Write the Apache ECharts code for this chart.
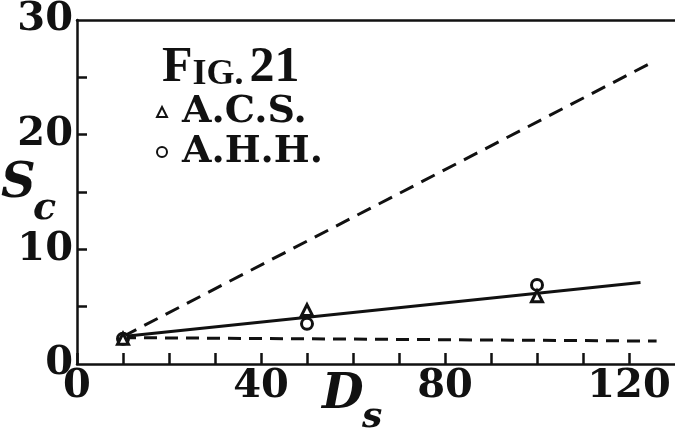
<!DOCTYPE html>
<html>
<head>
<meta charset="utf-8">
<script src="https://cdn.jsdelivr.net/npm/echarts@6/dist/echarts.min.js"></script>
<style>
html,body{margin:0;padding:0;background:#fff;}
#c{width:675px;height:430px;}
</style>
</head>
<body>
<div id="c"></div>
<script>
// Data
const acsX = [10, 50, 100];
const acsY = [2.2, 4.7, 5.9];
const ahhX = [10, 50, 100];
const ahhY = [2.2, 3.5, 6.9];
const solidLineX = [10, 122.5];
const solidLineY = [2.4, 7.1];
const upperDashX = [10, 125];
const upperDashY = [2.4, 26.3];
const lowerDashX = [10, 126];
const lowerDashY = [2.3, 2.0];
const xLabelValues = [0, 40, 80, 120];
const xTickValues = [0, 10, 20, 30, 40, 50, 60, 70, 80, 90, 100, 110, 120];
const yLabelValues = [0, 10, 20, 30];
const yTickValues = [5, 10, 15, 20, 25];

const pair = (xs, ys) => xs.map((x, i) => [x, ys[i]]);
const INK = '#111';
const FONT = 'DejaVu Serif';
const TFONT = 'Liberation Serif';

const chart = echarts.init(document.getElementById('c'));
chart.setOption({
  animation: false,
  backgroundColor: '#fff',
  grid: { left: 77, right: 0, top: 18, bottom: 66 },
  title: {
    left: 157, top: 36,
    text: '{a|F}{b|IG.}{n|21}',
    textStyle: {
      rich: {
        a: { fontFamily: TFONT, fontWeight: 'bold', fontSize: 50, color: INK, lineHeight: 52, verticalAlign: 'bottom' },
        b: { fontFamily: TFONT, fontWeight: 'bold', fontSize: 36, color: INK, lineHeight: 40, verticalAlign: 'bottom' },
        n: { fontFamily: TFONT, fontWeight: 'bold', fontSize: 50, color: INK, lineHeight: 52, verticalAlign: 'bottom', width: 56, align: 'right' }
      }
    }
  },
  legend: {
    orient: 'vertical', left: 151, top: 87,
    data: ['A.C.S.', 'A.H.H.'],
    itemWidth: 10, itemHeight: 10, itemGap: 0,
    textStyle: { fontFamily: FONT, fontWeight: 'bold', fontSize: 38, color: INK, lineHeight: 40, padding: [0, 0, 0, 10] }
  },
  xAxis: [{
    type: 'value', min: 0, max: 130, interval: 10,
    axisLine: { show: true, onZero: false, lineStyle: { color: INK, width: 2.5 } },
    axisTick: { show: true, inside: true, length: 11, customValues: xTickValues, lineStyle: { color: INK, width: 2.5 } },
    axisLabel: { customValues: xLabelValues, margin: 3, fontFamily: FONT, fontWeight: 'bold', fontSize: 40, color: INK },
    splitLine: { show: false }
  }, {
    type: 'value', position: 'top', min: 0, max: 130,
    axisLine: { show: true, onZero: false, lineStyle: { color: INK, width: 2.5 } },
    axisTick: { show: false }, axisLabel: { show: false }, splitLine: { show: false }
  }],
  yAxis: {
    type: 'value', min: 0, max: 30, interval: 5,
    axisLine: { show: true, onZero: false, lineStyle: { color: INK, width: 2.5 } },
    axisTick: { show: true, inside: true, length: 10, customValues: yTickValues, lineStyle: { color: INK, width: 2.5 } },
    axisLabel: { customValues: yLabelValues, margin: 4, fontFamily: FONT, fontWeight: 'bold', fontSize: 40, color: INK },
    splitLine: { show: false }
  },
  graphic: [
    { type: 'text', left: 1, top: 161, style: { text: 'S', font: 'italic bold 48px "DejaVu Serif"', fill: INK } },
    { type: 'text', left: 33, top: 190, style: { text: 'c', font: 'italic bold 38px "DejaVu Serif"', fill: INK } },
    { type: 'text', left: 322, top: 372, style: { text: 'D', font: 'italic bold 48px "DejaVu Serif"', fill: INK } },
    { type: 'text', left: 362, top: 400, style: { text: 's', font: 'italic bold 36px "DejaVu Serif"', fill: INK } }
  ],
  series: [
    { type: 'line', name: 'upper', data: pair(upperDashX, upperDashY), showSymbol: false, symbol: 'none',
      lineStyle: { color: INK, width: 3, type: [15, 9] }, z: 1 },
    { type: 'line', name: 'lower', data: pair(lowerDashX, lowerDashY), showSymbol: false, symbol: 'none',
      lineStyle: { color: INK, width: 3, type: [13, 8] }, z: 1 },
    { type: 'line', name: 'fit', data: pair(solidLineX, solidLineY), showSymbol: false, symbol: 'none',
      lineStyle: { color: INK, width: 3 }, z: 1 },
    { type: 'scatter', name: 'A.H.H.', data: pair(ahhX, ahhY), symbol: 'circle', symbolSize: 11,
      itemStyle: { color: '#fff', borderColor: INK, borderWidth: 3, opacity: 1 }, z: 3 },
    { type: 'scatter', name: 'A.C.S.', data: pair(acsX, acsY), symbol: 'triangle', symbolSize: 11,
      itemStyle: { color: '#fff', borderColor: INK, borderWidth: 3, opacity: 1 }, z: 4 }
  ]
});
</script>
</body>
</html>
